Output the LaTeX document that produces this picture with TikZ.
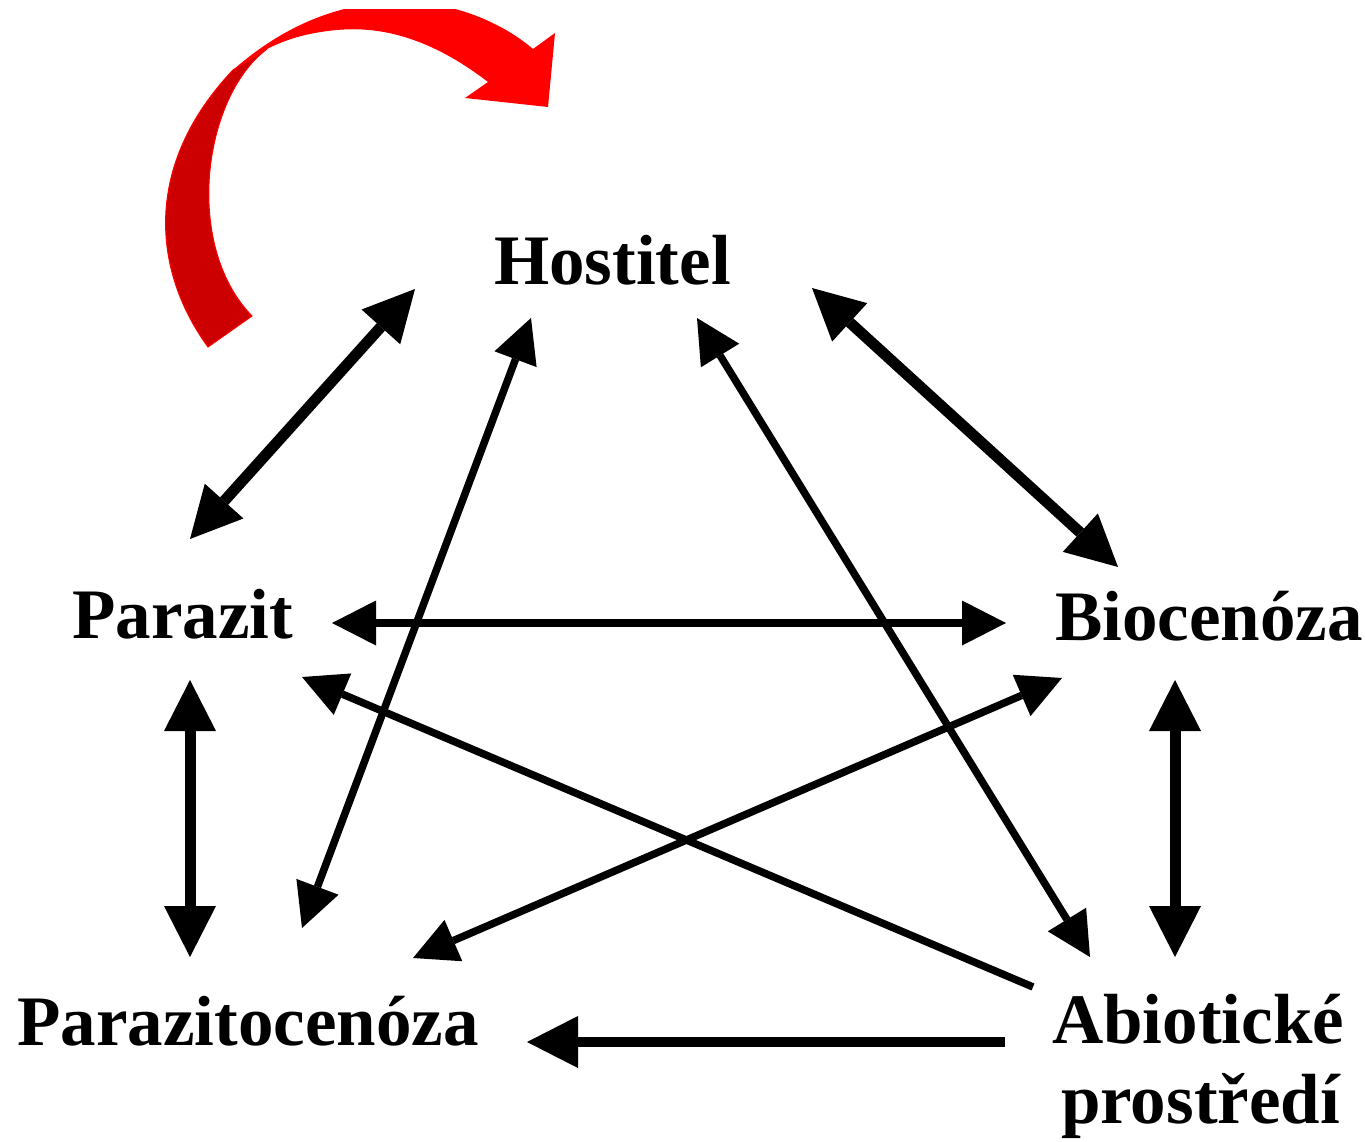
\documentclass[tikz,border=0pt]{standalone}
\usepackage{fontspec}
\setmainfont{Liberation Serif}
\usetikzlibrary{arrows.meta}
\definecolor{ribbon}{HTML}{FF0000}
\definecolor{ribbondark}{HTML}{CC0000}
\tikzset{
  bigtip/.tip={Triangle[length=51pt,width=52pt,line width=0pt]},
  smalltip/.tip={Triangle[length=44pt,width=45pt,line width=0pt]},
  lbl/.style={anchor=base west, inner sep=0pt, font=\fontsize{71}{80}\selectfont\bfseries},
  heavy/.style={line width=11pt, bigtip-bigtip},
  heavyone/.style={line width=10pt, -bigtip},
  light/.style={line width=7.5pt, smalltip-smalltip},
  lightone/.style={line width=7.5pt, -smalltip},
}
\begin{document}
\begin{tikzpicture}[x=1pt,y=-1pt]
\useasboundingbox (0,0) rectangle (1365,1142);
\fill[white] (0,0) rectangle (1365,1142);

% labels
\node[lbl] (host) at (494,284) {Hostitel};
\node[lbl] (par)  at (72,638)  {Parazit};
\node[lbl] (bio)  at (1055,640) {Biocenóza};
\node[lbl] (pcen) at (17,1045) {Parazitocenóza};
\node[lbl] (abio) at (1052,1043) {\vtop{\hbox{Abiotické}\hbox{\hspace{9pt}prostředí}}};

% arrow ends around each label
\coordinate (host-par)  at (415,289);
\coordinate (host-pcen) at (531,318);
\coordinate (host-abio) at (697,318);
\coordinate (host-bio)  at (812,288);
\coordinate (par-host)  at (190,539);
\coordinate (par-bio)   at (332,623);
\coordinate (par-abio)  at (302,677);
\coordinate (par-pcen)  at (190,680);
\coordinate (bio-par)   at (1006,623);
\coordinate (bio-host)  at (1118,567);
\coordinate (bio-pcen)  at (1062,678);
\coordinate (bio-abio)  at (1175,680);
\coordinate (pcen-par)  at (190,957);
\coordinate (pcen-host) at (302,928);
\coordinate (pcen-bio)  at (413,958);
\coordinate (pcen-abio) at (527,1042);
\coordinate (abio-host) at (1090,957);
\coordinate (abio-bio)  at (1175,957);
\coordinate (abio-par)  at (1033,987);
\coordinate (abio-pcen) at (1005,1042);

% connectors
\draw[heavy] (host-par) -- (par-host);
\draw[light] (host-pcen) -- (pcen-host);
\draw[light] (host-abio) -- (abio-host);
\draw[heavy] (host-bio) -- (bio-host);
\draw[light] (par-bio) -- (bio-par);
\draw[lightone] (abio-par) -- (par-abio);
\draw[light] (pcen-bio) -- (bio-pcen);
\draw[heavy] (par-pcen) -- (pcen-par);
\draw[heavy] (bio-abio) -- (abio-bio);
\draw[heavyone] (abio-pcen) -- (pcen-abio);

% curved red ribbon arrow, cut off at the top edge
\begin{scope}
\clip (0,10) rectangle (1365,1142);
\fill[ribbon] (233,70) .. controls (290,20) and (350,0) .. (410,2)
  .. controls (460,4) and (505,25) .. (533,49)
  -- (555,33) -- (548,107) -- (465,98) -- (488,82)
  .. controls (440,45) and (390,25) .. (337,30)
  .. controls (305,33) and (285,40) .. (267,49) -- cycle;
\filldraw[fill=ribbondark, draw=ribbon, line width=1pt]
  (208,347) .. controls (152,270) and (143,165) .. (233,70)
  -- (267,49) .. controls (203,97) and (183,245) .. (252,316) -- cycle;
\end{scope}
\end{tikzpicture}
\end{document}
